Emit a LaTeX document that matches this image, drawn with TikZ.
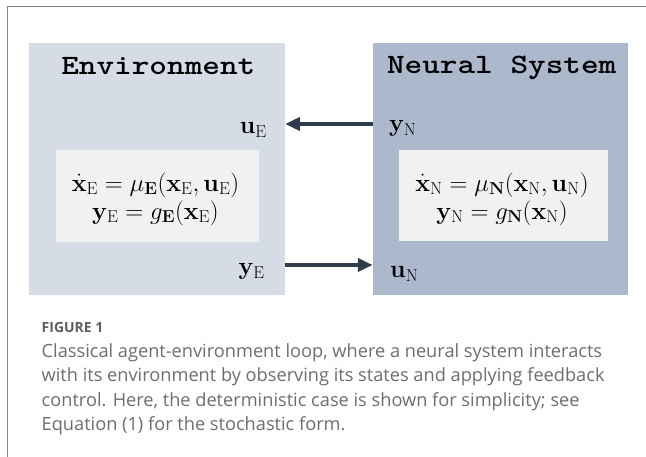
\documentclass[tikz,border=0pt]{standalone}
\usepackage{amsmath}
\usepackage[no-math]{fontspec}
\setmainfont{Open Sans}
\newfontfamily\titlemono[FakeStretch=1.2]{lmmonolt10-bold.otf}
\usetikzlibrary{arrows.meta}

\definecolor{envfill}{RGB}{214,220,230}
\definecolor{nsfill}{RGB}{172,184,203}
\definecolor{eqfill}{RGB}{241,241,241}
\definecolor{flowcol}{RGB}{47,60,78}
\definecolor{framecol}{RGB}{130,130,130}
\definecolor{capcol}{RGB}{110,110,110}
\definecolor{figcol}{RGB}{95,95,95}

\tikzset{
  panel/.style={inner sep=0pt, outer sep=0pt, draw=none},
  eqbox/.style={inner sep=0pt, outer sep=0pt, fill=eqfill},
  paneltitle/.style={font=\titlemono\fontsize{28}{32}\selectfont, inner sep=0pt, anchor=base},
  sig/.style={font=\fontsize{25}{28}\selectfont, inner sep=0pt},
  eqs/.style={font=\fontsize{25}{28}\selectfont, inner sep=0pt, align=center},
  flow/.style={draw=flowcol, line width=4.6pt, -{Triangle[length=15pt, width=13pt]}},
}

\newcommand{\sE}{\mathrm{E}}
\newcommand{\sN}{\mathrm{N}}

\begin{document}
\begin{tikzpicture}[x=1pt, y=-1pt]
  \useasboundingbox (0,0) rectangle (646,457);
  \fill[white] (0,0) rectangle (646,457);

  % frame of the figure
  \draw[framecol, line width=1.5pt] (7.5,457) -- (7.5,6.5) -- (646,6.5);

  % the two panels
  \node[panel, fill=envfill, minimum width=255.7pt, minimum height=252.3pt] (env) at (157.2,168.9) {};
  \node[panel, fill=nsfill, minimum width=255.3pt, minimum height=252.3pt] (nsys) at (500.4,168.9) {};

  \node[paneltitle] (envtitle) at (158.3,75) {Environment};
  \node[paneltitle] (nstitle) at (501.7,74) {Neural System};

  % state equations
  \node[eqbox, minimum width=203.3pt, minimum height=91.7pt] (enveqbox) at (157.4,195.9) {};
  \node[eqbox, minimum width=209pt, minimum height=91pt] (nseqbox) at (503.5,195.5) {};

  \node[eqs] (enveq) at (155.5,199) {$\dot{\mathbf{x}}_{\sE} = \mu_{\mathbf{E}}(\mathbf{x}_{\sE}, \mathbf{u}_{\sE})$\\$\mathbf{y}_{\sE} = g_{\mathbf{E}}(\mathbf{x}_{\sE})$};
  \node[eqs] (nseq) at (502,199) {$\dot{\mathbf{x}}_{\sN} = \mu_{\mathbf{N}}(\mathbf{x}_{\sN}, \mathbf{u}_{\sN})$\\$\mathbf{y}_{\sN} = g_{\mathbf{N}}(\mathbf{x}_{\sN})$};

  % input and output signals
  \node[sig, anchor=base east] (uE) at (267,134) {$\mathbf{u}_{\sE}$};
  \node[sig, anchor=base east] (yE) at (265,275) {$\mathbf{y}_{\sE}$};
  \node[sig, anchor=base west] (yN) at (389,132) {$\mathbf{y}_{\sN}$};
  \node[sig, anchor=base west] (uN) at (390,278) {$\mathbf{u}_{\sN}$};

  % feedback loop
  \draw[flow] (nsys.west |- 0,124) -- (env.east |- 0,124);
  \draw[flow] (env.east |- 0,265) -- (nsys.west |- 0,265);

  % caption
  \node[anchor=base west, inner sep=0pt, text=figcol, font=\bfseries\fontsize{14}{16}\selectfont] (fig) at (41.5,333) {FIGURE 1};
  \node[anchor=north west, inner sep=0pt, text=capcol, align=left, font=\fontsize{18.2}{24.5}\selectfont] (cap) at (41.5,343)
    {Classical agent-environment loop, where a neural system interacts\\
     with its environment by observing its states and applying feedback\\
     control. Here, the deterministic case is shown for simplicity; see\\
     Equation (1) for the stochastic form.};
\end{tikzpicture}
\end{document}
